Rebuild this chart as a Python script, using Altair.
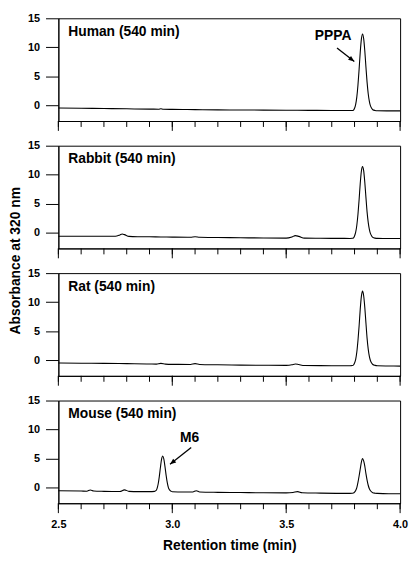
import altair as alt
import pandas as pd

# ---------------- data ----------------
panel_labels = ["Human (540 min)", "Rabbit (540 min)", "Rat (540 min)", "Mouse (540 min)"]

human_t = [2.50, 2.60, 2.70, 2.80, 2.90, 2.94, 2.95, 2.96, 3.00, 3.10, 3.20, 3.30, 3.40, 3.50,
           3.60, 3.70, 3.78, 3.79, 3.795, 3.80, 3.805, 3.81, 3.815, 3.82, 3.825, 3.83, 3.835,
           3.84, 3.845, 3.85, 3.855, 3.86, 3.865, 3.87, 3.875, 3.88, 3.89, 3.90, 3.95, 4.00]
human_a = [-0.45, -0.50, -0.55, -0.60, -0.65, -0.66, -0.58, -0.66, -0.70, -0.74, -0.78, -0.80, -0.82, -0.84,
           -0.86, -0.88, -0.90, -0.88, -0.83, -0.51, 0.17, 1.46, 3.50, 6.20, 9.15, 11.40, 12.30,
           11.50, 9.40, 6.60, 4.00, 2.00, 0.70, -0.10, -0.50, -0.75, -0.88, -0.92, -0.95, -0.96]

rabbit_t = [2.50, 2.60, 2.70, 2.75, 2.77, 2.78, 2.79, 2.81, 2.85, 2.90, 2.95, 3.00, 3.08, 3.10, 3.12,
            3.20, 3.30, 3.40, 3.50, 3.525, 3.54, 3.555, 3.58, 3.65, 3.75, 3.78, 3.79, 3.795,
            3.80, 3.805, 3.81, 3.815, 3.82, 3.825, 3.83, 3.835, 3.84, 3.845, 3.85, 3.855, 3.86,
            3.865, 3.87, 3.875, 3.88, 3.89, 3.90, 3.95, 4.00]
rabbit_a = [-0.60, -0.60, -0.60, -0.60, -0.38, -0.22, -0.32, -0.62, -0.68, -0.70, -0.72, -0.75, -0.78, -0.70, -0.78,
            -0.82, -0.86, -0.90, -0.92, -0.72, -0.50, -0.62, -0.93, -0.96, -0.97, -0.98, -0.96, -0.90,
            -0.55, 0.10, 1.30, 3.20, 5.70, 8.50, 10.60, 11.40, 10.70, 8.70, 6.10, 3.60, 1.80,
            0.60, -0.15, -0.55, -0.80, -0.93, -0.97, -1.00, -1.00]

rat_t = [2.50, 2.60, 2.70, 2.80, 2.90, 2.93, 2.95, 2.97, 3.00, 3.08, 3.10, 3.12, 3.20, 3.30, 3.40,
         3.50, 3.525, 3.54, 3.555, 3.58, 3.70, 3.78, 3.79, 3.795, 3.80, 3.805, 3.81, 3.815, 3.82,
         3.825, 3.83, 3.835, 3.84, 3.845, 3.85, 3.855, 3.86, 3.865, 3.87, 3.875, 3.88, 3.89,
         3.90, 3.95, 4.00]
rat_a = [-0.50, -0.52, -0.55, -0.60, -0.65, -0.68, -0.55, -0.68, -0.72, -0.74, -0.60, -0.75, -0.80, -0.85, -0.88,
         -0.90, -0.80, -0.65, -0.75, -0.92, -0.95, -0.96, -0.93, -0.86, -0.50, 0.15, 1.40, 3.40, 5.90,
         8.80, 11.00, 11.90, 11.10, 9.10, 6.40, 3.80, 1.90, 0.65, -0.10, -0.50, -0.75, -0.90,
         -0.97, -1.00, -1.02]

mouse_t = [2.50, 2.60, 2.625, 2.64, 2.655, 2.70, 2.77, 2.79, 2.81, 2.85, 2.90, 2.922, 2.928, 2.933,
           2.938, 2.943, 2.948, 2.953, 2.958, 2.963, 2.968, 2.973, 2.978, 2.983, 2.988, 2.995,
           3.00, 3.05, 3.09, 3.105, 3.12, 3.20, 3.30, 3.40, 3.50, 3.53, 3.55, 3.57, 3.65, 3.78,
           3.79, 3.795, 3.80, 3.805, 3.81, 3.815, 3.82, 3.825, 3.83, 3.835, 3.84, 3.845, 3.85,
           3.855, 3.86, 3.865, 3.87, 3.875, 3.88, 3.89, 3.90, 3.95, 4.00]
mouse_a = [-0.55, -0.60, -0.62, -0.42, -0.60, -0.65, -0.68, -0.40, -0.65, -0.70, -0.70, -0.66, -0.54, -0.17,
           0.62, 1.90, 3.50, 4.89, 5.45, 4.89, 3.60, 2.10, 0.85, 0.00, -0.40, -0.65,
           -0.72, -0.75, -0.75, -0.55, -0.75, -0.82, -0.86, -0.90, -0.92, -0.85, -0.70, -0.88, -0.95, -1.00,
           -0.98, -0.95, -0.80, -0.50, 0.00, 0.90, 2.00, 3.20, 4.40, 5.00, 4.60, 3.70, 2.40,
           1.30, 0.40, -0.20, -0.55, -0.75, -0.88, -0.97, -1.00, -1.05, -1.05]

traces = [(human_t, human_a), (rabbit_t, rabbit_a), (rat_t, rat_a), (mouse_t, mouse_a)]

# annotations: panel index, label, label position, arrow start, arrow tip, arrow angle
ann_panel = [0, 3]
ann_text = ["PPPA", "M6"]
ann_text_t = [3.706, 3.076]
ann_text_a = [12.0, 8.5]
ann_start_t = [3.723, 3.083]
ann_start_a = [9.9, 6.9]
ann_tip_t = [3.799, 2.990]
ann_tip_a = [7.55, 4.0]
ann_angle = [128, 231]

x_ticks = [2.5, 2.6, 2.7, 2.8, 2.9, 3.0, 3.1, 3.2, 3.3, 3.4, 3.5, 3.6, 3.7, 3.8, 3.9, 4.0]
x_tick_major = [1, 0, 0, 0, 0, 1, 0, 0, 0, 0, 1, 0, 0, 0, 0, 1]
x_labels = [2.5, 3.0, 3.5, 4.0]
y_ticks = [0, 5, 10, 15]
x_domain = [2.5, 4.0]
y_domain = [-2.7, 15]

x_title = "Retention time (min)"
y_title = "Absorbance at 320 nm"

# ---------------- chart ----------------
W, H = 346, 104
FONT = "Liberation Sans"
xscale = alt.Scale(domain=x_domain, nice=False, zero=False)
yscale = alt.Scale(domain=y_domain, nice=False, zero=False)
tick_df = pd.DataFrame({"v": x_ticks, "major": x_tick_major})

panels = []
for i, (t, a) in enumerate(traces):
    bottom = i == len(traces) - 1
    df = pd.DataFrame({"t": t, "a": a})
    if bottom:
        xaxis = alt.Axis(values=x_labels, ticks=False, format=".1f",
                         labelOverlap=False, labelFlush=False, labelPadding=16,
                         title=x_title, titlePadding=9, titleFontSize=14, titleFontWeight="bold")
    else:
        xaxis = alt.Axis(values=x_labels, ticks=False, labels=False, title=None)
    yaxis = alt.Axis(values=y_ticks, tickSize=13, labelPadding=6, labelOverlap=False, title=None)

    def X(field):
        return alt.X(field, type="quantitative", scale=xscale, axis=xaxis)

    def Y(field):
        return alt.Y(field, type="quantitative", scale=yscale, axis=yaxis)

    line = alt.Chart(df).mark_line(color="black", strokeWidth=1.1, interpolate="monotone").encode(
        x=X("t"), y=Y("a"))
    minor = alt.Chart(tick_df).mark_rule(color="black", strokeWidth=1).encode(
        x=X("v"), y=alt.value(H), y2=alt.value(H + 6))
    major = alt.Chart(tick_df).transform_filter("datum.major == 1").mark_rule(
        color="black", strokeWidth=1).encode(
        x=X("v"), y=alt.value(H), y2=alt.value(H + 10))
    lab = alt.Chart(pd.DataFrame({"lab": [panel_labels[i]]})).mark_text(
        align="left", baseline="middle", fontSize=14, fontWeight="bold", font=FONT, color="black"
    ).encode(text="lab:N", x=alt.value(10), y=alt.value(14))
    layers = [line, minor, major, lab]

    for k, p in enumerate(ann_panel):
        if p != i:
            continue
        adf = pd.DataFrame({"txt": [ann_text[k]], "tt": [ann_text_t[k]], "ta": [ann_text_a[k]],
                            "st": [ann_start_t[k]], "sa": [ann_start_a[k]],
                            "et": [ann_tip_t[k]], "ea": [ann_tip_a[k]], "ang": [ann_angle[k]]})
        base = alt.Chart(adf)
        layers.append(base.mark_text(fontSize=14, fontWeight="bold", font=FONT, color="black",
                                     align="center", baseline="middle").encode(
            x=X("tt"), y=Y("ta"), text="txt:N"))
        layers.append(base.mark_rule(color="black", strokeWidth=1.3).encode(
            x=X("st"), y=Y("sa"), x2="et:Q", y2="ea:Q"))
        layers.append(base.mark_point(shape="M0,0 L-0.4,1 L0.4,1 Z", filled=True, color="black",
                                      size=150, opacity=1).encode(
            x=X("et"), y=Y("ea"), angle=alt.Angle("ang:Q", scale=None)))

    if i == 1:
        layers.append(alt.Chart(pd.DataFrame({"yt": [y_title]})).mark_text(
            angle=270, fontSize=14, fontWeight="bold", font=FONT, color="black",
            align="center", baseline="middle").encode(
            text="yt:N", x=alt.value(-43), y=alt.value(H + 12.5)))

    panels.append(alt.layer(*layers).properties(width=W, height=H))

chart = alt.vconcat(*panels, spacing=25, bounds="flush").properties(padding=0).configure_view(
    stroke="black", strokeWidth=1
).configure_axis(
    domainColor="black", tickColor="black", labelColor="black", titleColor="black",
    labelFont=FONT, titleFont=FONT, labelFontSize=11, labelFontWeight="bold",
    domainWidth=1, tickWidth=1, grid=False
).configure_text(font=FONT)

chart.save("out.html", embed_options={"renderer": "svg", "actions": False})
